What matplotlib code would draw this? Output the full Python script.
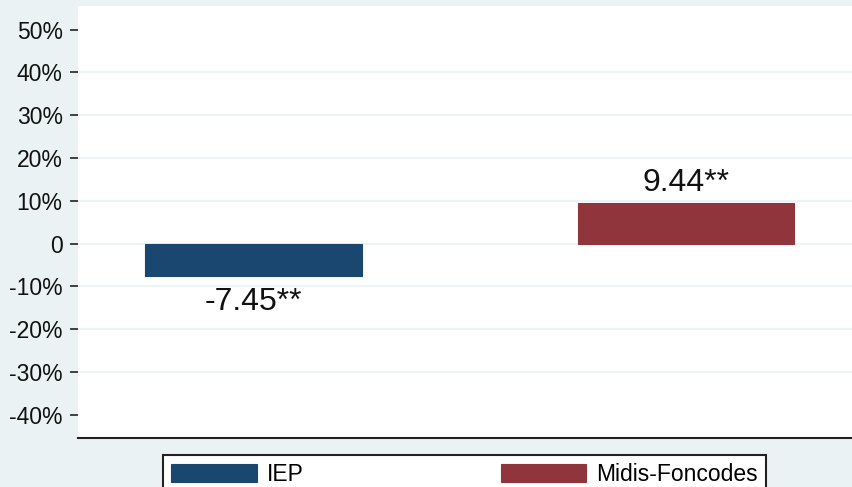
import matplotlib.pyplot as plt
from matplotlib.ticker import FuncFormatter

plt.rcParams['font.family'] = ['Liberation Sans', 'DejaVu Sans']

programas = ["IEP", "Midis-Foncodes"]
efectos = [-7.45, 9.44]
etiquetas = ["-7.45**", "9.44**"]
colores = ["#1a476f", "#90353b"]
yticks = [-40, -30, -20, -10, 0, 10, 20, 30, 40, 50]

fondo = "#eaf2f3"

fig = plt.figure(figsize=(8.52, 4.87), dpi=100, facecolor=fondo)
ax = fig.add_axes([78 / 852, 49 / 487, 1 - 78 / 852, 432 / 487])
ax.set_facecolor("white")

barras = []
for i, (prog, val, col) in enumerate(zip(programas, efectos, colores)):
    b = ax.bar(i, val, width=0.5, color=col, edgecolor=col, linewidth=0.8,
               label=prog, zorder=3)
    barras.append(b)

# etiquetas de los valores
for i, (val, txt) in enumerate(zip(efectos, etiquetas)):
    if val < 0:
        ax.annotate(txt, (i, val), xytext=(0, -8), textcoords="offset points",
                    ha="center", va="top", fontsize=23, color="#111111")
    else:
        ax.annotate(txt, (i, val), xytext=(0, 4), textcoords="offset points",
                    ha="center", va="bottom", fontsize=23, color="#111111")

ax.set_xlim(-0.406, 1.384)
ax.set_ylim(-45.4, 55.5)
ax.set_yticks(yticks)
ax.yaxis.set_major_formatter(FuncFormatter(lambda v, p: "0" if v == 0 else f"{v:.0f}%"))
ax.set_xticks([])

ax.grid(axis="y", color=fondo, linewidth=1.2, zorder=0)
ax.set_axisbelow(True)
gl = ax.get_ygridlines()
gl[0].set_visible(False)
gl[-1].set_visible(False)

ax.tick_params(axis="y", direction="out", length=6, width=1.2, color="#222222",
               labelsize=16.5, pad=5, labelcolor="#111111")
for s in ["left", "top", "right"]:
    ax.spines[s].set_visible(False)
ax.spines["bottom"].set_color("#222222")
ax.spines["bottom"].set_linewidth(1.5)

leg = fig.legend(handles=[b[0] for b in barras], labels=programas,
                 loc="upper left", bbox_to_anchor=(163 / 852, 1 - 455 / 487),
                 ncol=2, fontsize=16.5, handlelength=3.74, handleheight=0.87,
                 handletextpad=0.43, columnspacing=8.6, borderpad=0.35,
                 borderaxespad=0, fancybox=False, framealpha=1,
                 edgecolor="#222222")
leg.get_frame().set_linewidth(1.5)

fig.savefig("out.png", dpi=100, facecolor=fondo)
